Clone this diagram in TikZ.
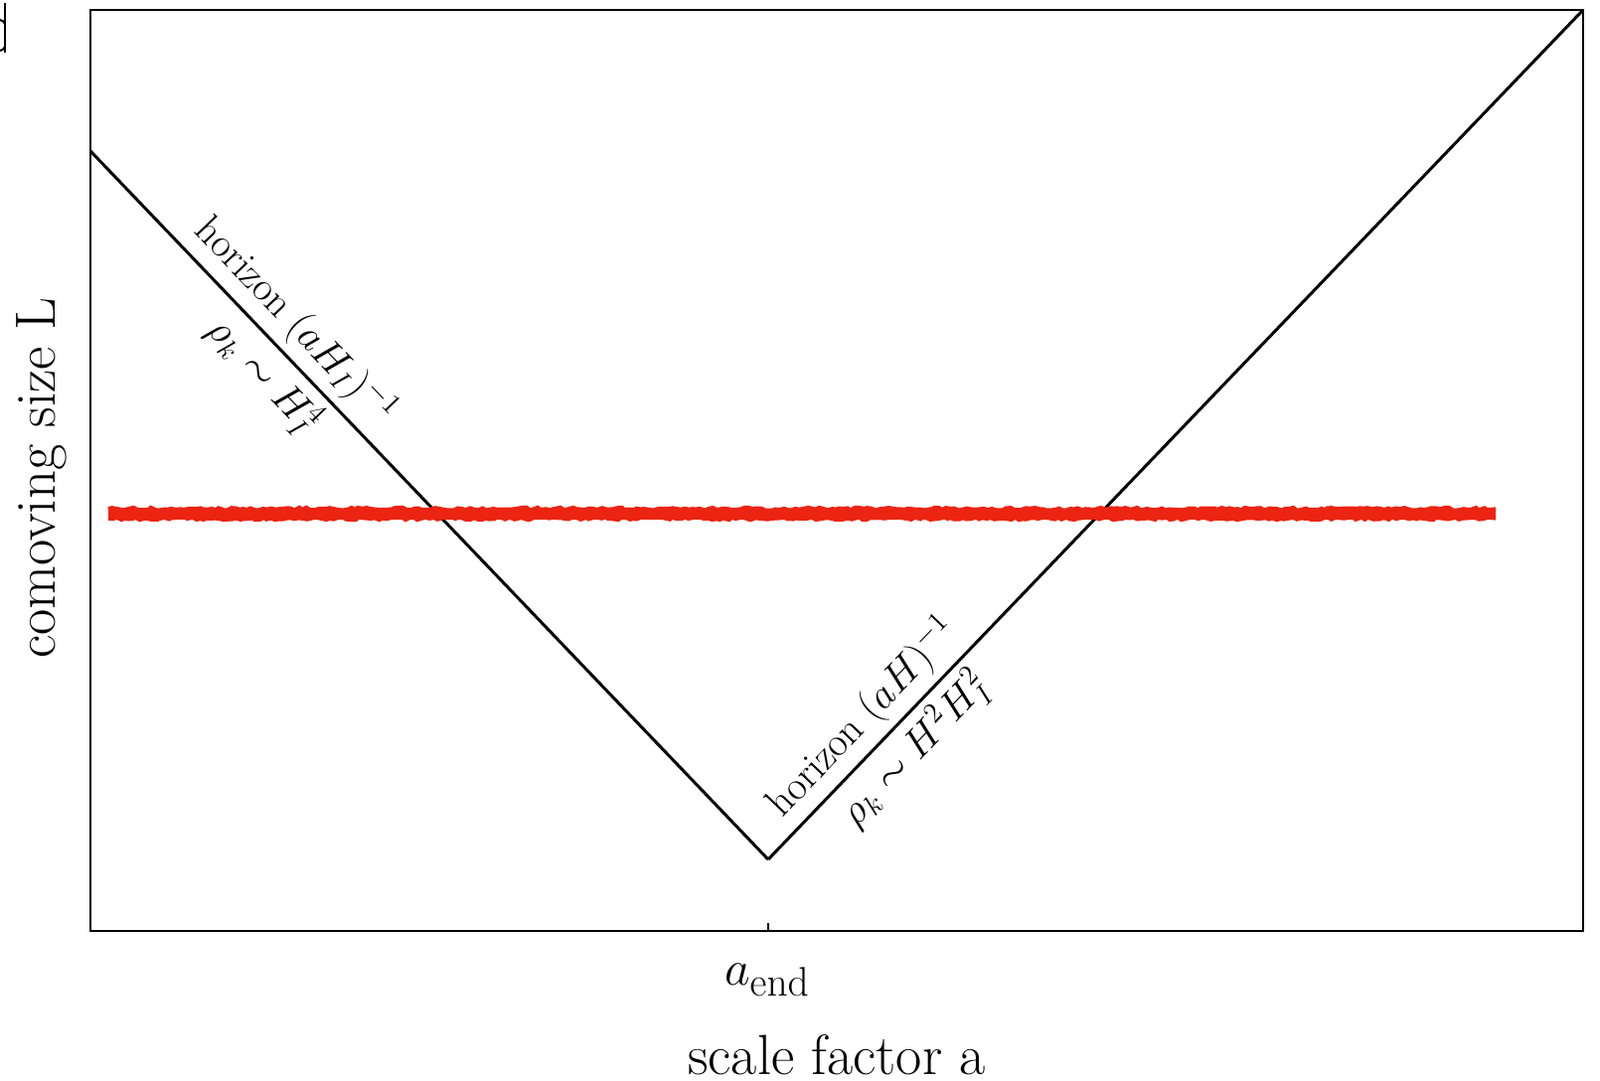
\documentclass[tikz,border=0pt]{standalone}
\usetikzlibrary{decorations.pathmorphing}
\definecolor{lred}{RGB}{236,36,18}
\tikzset{
  axlabel/.style={font=\fontsize{28.5}{34}\selectfont,inner sep=0pt},
  linelabel/.style={font=\fontsize{20.5}{25}\selectfont,sloped},
  roughline/.style={lred,decorate,decoration={random steps,segment length=2pt,amplitude=0.7pt}}
}

\begin{document}
\begin{tikzpicture}[x=0.5pt,y=-0.5pt]
\useasboundingbox (0,0) rectangle (1610,1087);
\coordinate (SW) at (91,937);
\coordinate (NE) at (1593,10);
\coordinate (A) at (91,152);
\coordinate (B) at (773,865);
\coordinate (C) at (1593,10);
\coordinate (R1) at (109,517);
\coordinate (R2) at (1505,517);
\coordinate (T) at (773,937);
\coordinate (T1) at (773,929);
% frame
\draw[line width=1.3pt] (SW) rectangle (NE);
\draw[line width=0.8pt] (T)--(T1);
% horizon lines
\draw[line width=1.5pt] (A)--(B) node [linelabel,pos=0.27,above] {horizon $(aH_I)^{-1}$}
                                  node [linelabel,pos=0.288,below] {$\rho_k\sim H_I^4$};
\draw[line width=1.5pt] (B)--(C) node [linelabel,pos=0.143,above] {horizon $(aH)^{-1}$}
                                  node [linelabel,pos=0.154,below] {$\rho_k\sim H^2H_I^2$};
% mode
\draw[lred,line width=5.5pt] (R1)--(R2);
\draw[roughline,line width=2.2pt] ([yshift=-2.3pt]R1)--([yshift=-2.3pt]R2);
\draw[roughline,line width=2.2pt] ([yshift=2.3pt]R1)--([yshift=2.3pt]R2);
% axis labels
\node[axlabel,anchor=base] (aend) at (772,991) {$a_{\mathrm{end}}$};
\node[axlabel,anchor=base] (xlab) at (842,1081) {scale factor a};
\node[axlabel,rotate=90,anchor=base] (ylab) at (55,481) {comoving size L};
% clipped mark
\draw[line width=1.3pt] (5,3)--(5,53);
\draw[line width=1pt] (0,20) .. controls (3,21) .. (5,24);
\draw[line width=1pt] (0,51) .. controls (3,50) .. (5,47);
\end{tikzpicture}
\end{document}
